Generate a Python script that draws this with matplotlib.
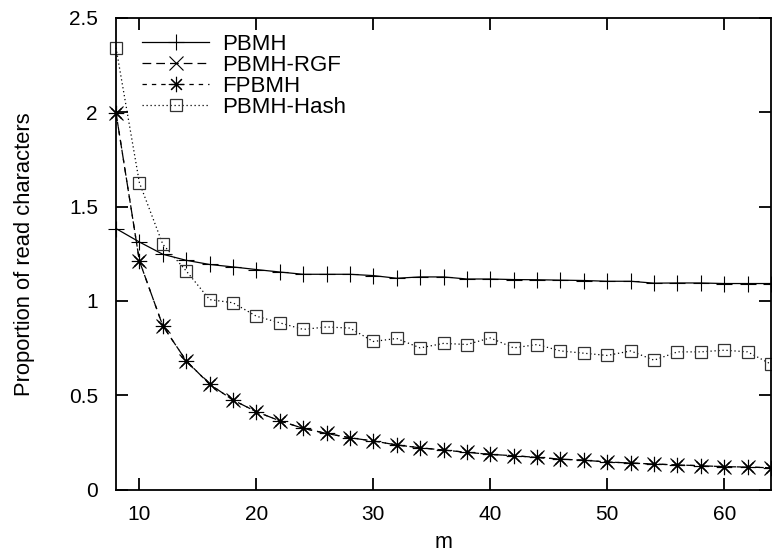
import matplotlib
matplotlib.use("Agg")
import matplotlib.pyplot as plt

plt.rcParams['font.family'] = ['Liberation Sans', 'DejaVu Sans']

m = list(range(8, 66, 2))

pbmh = [1.383, 1.312, 1.247, 1.215, 1.193, 1.180, 1.166, 1.153, 1.141, 1.141,
        1.141, 1.134, 1.120, 1.127, 1.127, 1.116, 1.116, 1.113, 1.112, 1.110,
        1.108, 1.104, 1.104, 1.094, 1.095, 1.095, 1.092, 1.092, 1.092]

pbmh_rgf = [1.997, 1.212, 0.868, 0.683, 0.559, 0.475, 0.413, 0.365, 0.325, 0.298,
            0.275, 0.258, 0.237, 0.222, 0.210, 0.198, 0.187, 0.180, 0.171, 0.162,
            0.156, 0.147, 0.141, 0.136, 0.131, 0.127, 0.122, 0.120, 0.116]

fpbmh = [1.997, 1.212, 0.868, 0.683, 0.559, 0.475, 0.413, 0.365, 0.325, 0.298,
         0.275, 0.258, 0.237, 0.222, 0.210, 0.198, 0.187, 0.180, 0.171, 0.162,
         0.156, 0.147, 0.141, 0.136, 0.131, 0.127, 0.122, 0.120, 0.116]

pbmh_hash = [2.341, 1.626, 1.300, 1.159, 1.007, 0.990, 0.919, 0.884, 0.849, 0.862,
             0.856, 0.785, 0.801, 0.751, 0.775, 0.769, 0.804, 0.751, 0.769, 0.735,
             0.723, 0.711, 0.735, 0.686, 0.730, 0.730, 0.739, 0.730, 0.665]

xticks = [10, 20, 30, 40, 50, 60]
yticks = [0, 0.5, 1, 1.5, 2, 2.5]
ytick_labels = ['0', '0.5', '1', '1.5', '2', '2.5']

fig = plt.figure(figsize=(7.72, 5.58), dpi=100)
ax = fig.add_axes([116/772, 1 - 489.7/558, (771 - 116)/772, (489.7 - 17.7)/558])

lw = 0.9
ax.plot(m, pbmh, color='black', lw=lw, ls='-', marker='+', ms=11, mew=0.8,
        clip_on=False, label='PBMH')
ax.plot(m, pbmh_rgf, color='black', lw=lw, ls=(0, (7, 4)), marker='x', ms=10, mew=0.8,
        clip_on=False, label='PBMH-RGF')
ax.plot(m, fpbmh, color='black', lw=lw, ls=(0, (3.5, 4)), marker=(8, 2, 0), ms=11, mew=0.8,
        clip_on=False, label='FPBMH')
ax.plot(m, pbmh_hash, color='black', lw=lw, ls=(0, (1, 2.2)), marker='s', ms=9, mew=0.9,
        mfc='none', mec='#333333', clip_on=False, label='PBMH-Hash')

ax.set_xlim(8, 64)
ax.set_ylim(0, 2.5)
ax.set_xticks(xticks)
ax.set_yticks(yticks)
ax.set_yticklabels(ytick_labels)

for s in ax.spines.values():
    s.set_linewidth(1.3)
ax.tick_params(direction='in', length=8.5, width=1.3, top=True, right=True,
               labelsize=15, colors='black')
ax.tick_params(axis='y', pad=13)
ax.tick_params(axis='x', pad=11)

ax.set_xlabel('m', fontsize=15.5, labelpad=6)
ax.set_ylabel('Proportion of read characters', fontsize=15.8, labelpad=24)

leg = ax.legend(loc='upper left', bbox_to_anchor=(0.04, 0.9665), frameon=False,
                fontsize=16, handlelength=3.0, handletextpad=0.6,
                labelspacing=0.0, borderpad=0, borderaxespad=0)

fig.savefig('out.png', dpi=100)
